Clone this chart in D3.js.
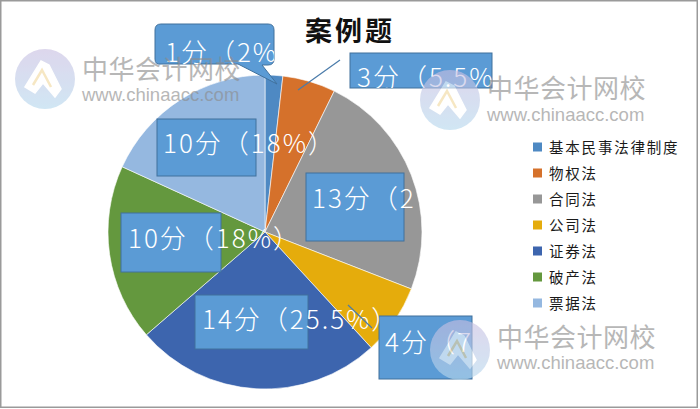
<!DOCTYPE html>
<html><head><meta charset="utf-8">
<script src="https://cdn.jsdelivr.net/npm/d3@7"></script>
<style>
html,body{margin:0;padding:0;background:#fff;}
svg{display:block;}
</style></head>
<body>
<svg id="chart" width="700" height="409"></svg>
<script>
// ---- data ----
const title = "案例题";
const categories = ["基本民事法律制度","物权法","合同法","公司法","证券法","破产法","票据法"];
const scores = [1, 3, 13, 4, 14, 10, 10];
const percentLabels = ["2%", "5.5%", "24%", "7%", "25.5%", "18%", "18%"];
const colors = ["#4E89C3","#D5712B","#979797","#E5AC0C","#3D65AE","#64983E","#95B8E0"];

// ---- layout (label boxes placed as in the reference) ----
const labelLayout = [
  {box:[155,24,119,41], rounded:true, tx:165, ty:62, clip:[155,24,119,41], tail:[[238,64],[262,64],[277,84]]},
  {box:[350,53,142,35], tx:357, ty:87, clip:[350,53,142,35], leader:[[340,60],[298,90]]},
  {box:[306,173,98,68], tx:312, ty:208, clip:[306,173,107,68]},
  {box:[379,316,93,63], tx:385, ty:352, clip:[379,316,93,63], leader:[[348,305],[372,328]]},
  {box:[195,295,113,54], tx:202, ty:329, clip:null},
  {box:[121,213,100,59], tx:128, ty:248, clip:null},
  {box:[157,119,99,57], tx:163, ty:153, clip:null}
];

const svg = d3.select("#chart");
const defs = svg.append("defs");

// border
svg.append("rect").attr("x",0.75).attr("y",0.75).attr("width",696.5).attr("height",406.5)
  .attr("fill","#fff").attr("stroke","#9a9a9a").attr("stroke-width",1.5);

// pie
const cx = 265, cy = 232, R = 157;
const pie = d3.pie().sort(null).value(d => d).startAngle(0).endAngle(2*Math.PI);
const arc = d3.arc().innerRadius(0).outerRadius(R);
const g = svg.append("g").attr("transform",`translate(${cx},${cy})`);
g.selectAll("path").data(pie(scores)).join("path")
  .attr("d", arc).attr("fill",(d,i)=>colors[i])
  .attr("stroke","#fff").attr("stroke-width",0.6);

// title
svg.append("text").attr("x",350).attr("y",41).attr("text-anchor","middle")
  .attr("font-family","'Noto Sans CJK SC', sans-serif").attr("font-weight","bold")
  .attr("font-size",27).attr("letter-spacing",3).attr("fill","#111").text(title);

// labels
const fontFam = "'Noto Sans CJK SC', 'Noto Sans', sans-serif";
labelLayout.forEach((L,i)=>{
  const [bx,by,bw,bh] = L.box;
  if (L.rounded) {
    const r = 6;
    const t = L.tail;
    const p = `M${bx+r},${by} H${bx+bw-r} Q${bx+bw},${by} ${bx+bw},${by+r} V${by+bh-r} Q${bx+bw},${by+bh} ${bx+bw-r},${by+bh}`+
      ` H${t[1][0]} L${t[2][0]},${t[2][1]} L${t[0][0]},${t[0][1]} H${bx+r} Q${bx},${by+bh} ${bx},${by+bh-r} V${by+r} Q${bx},${by} ${bx+r},${by} Z`;
    svg.append("path").attr("d",p).attr("fill","#5B9BD5").attr("stroke","#41719C").attr("stroke-width",1);
  } else {
    svg.append("rect").attr("x",bx).attr("y",by).attr("width",bw).attr("height",bh)
      .attr("fill","#5B9BD5").attr("stroke","#41719C").attr("stroke-width",1);
  }
  const txt = svg.append("text").attr("x",L.tx).attr("y",L.ty)
    .attr("font-family",fontFam).attr("font-size",26).attr("font-weight",300)
    .attr("letter-spacing",2).attr("fill","#fff")
    .text(`${scores[i]}分（${percentLabels[i]}）`);
  if (L.clip) {
    const id = "clip"+i;
    defs.append("clipPath").attr("id",id).append("rect")
      .attr("x",L.clip[0]).attr("y",L.clip[1]).attr("width",L.clip[2]).attr("height",L.clip[3]);
    txt.attr("clip-path",`url(#${id})`);
  }
});
labelLayout.forEach(L=>{
  if (L.leader) {
    svg.append("line").attr("x1",L.leader[0][0]).attr("y1",L.leader[0][1])
      .attr("x2",L.leader[1][0]).attr("y2",L.leader[1][1])
      .attr("stroke","#4A7BAA").attr("stroke-width",1.2);
  }
});

// legend
const lg = svg.append("g");
categories.forEach((c,i)=>{
  const y = 147 + i*26;
  lg.append("rect").attr("x",533).attr("y",y-4.5).attr("width",9).attr("height",9).attr("fill",colors[i]);
  lg.append("text").attr("x",549).attr("y",y+5.5)
    .attr("font-family",fontFam).attr("font-size",14.5).attr("letter-spacing",1.8)
    .attr("fill","#1a1a1a").text(c);
});

// watermarks
const grad = defs.append("linearGradient").attr("id","lg").attr("x1",0).attr("y1",0).attr("x2",0).attr("y2",1);
grad.append("stop").attr("offset","0%").attr("stop-color","#c9bfe2");
grad.append("stop").attr("offset","100%").attr("stop-color","#b5d8ee");
const marks = [
  {lx:45, ly:79, tx:82, ty:79, ux:82, uy:101},
  {lx:450, ly:100, tx:487, ty:98, ux:487, uy:121},
  {lx:460, ly:350, tx:497, ty:347, ux:497, uy:369}
];
marks.forEach(m=>{
  const wg = svg.append("g").attr("opacity",0.62);
  wg.append("circle").attr("cx",m.lx).attr("cy",m.ly).attr("r",30).attr("fill","url(#lg)");
  const sh = wg.append("g").attr("transform",`translate(${m.lx},${m.ly})`);
  sh.append("path").attr("d","M-20,8 L-4,-18 L4,-14 L16,10 L10,18 L-2,4 L-10,14 Z")
    .attr("fill","#fff").attr("stroke","#fff").attr("stroke-width",1.5);
  sh.append("path").attr("d","M-12,6 L-3,-9 L6,8").attr("fill","none")
    .attr("stroke","#f2d9a0").attr("stroke-width",2.5);
  wg.append("text").attr("x",m.tx).attr("y",m.ty).attr("font-family",fontFam)
    .attr("font-size",26).attr("letter-spacing",0.5).attr("fill","#8c8c8c").text("中华会计网校");
  wg.append("text").attr("x",m.ux).attr("y",m.uy).attr("font-family","'Liberation Sans', Arial, sans-serif")
    .attr("font-size",18.5).attr("fill","#8c8c8c").text("www.chinaacc.com");
});
</script>
</body></html>
